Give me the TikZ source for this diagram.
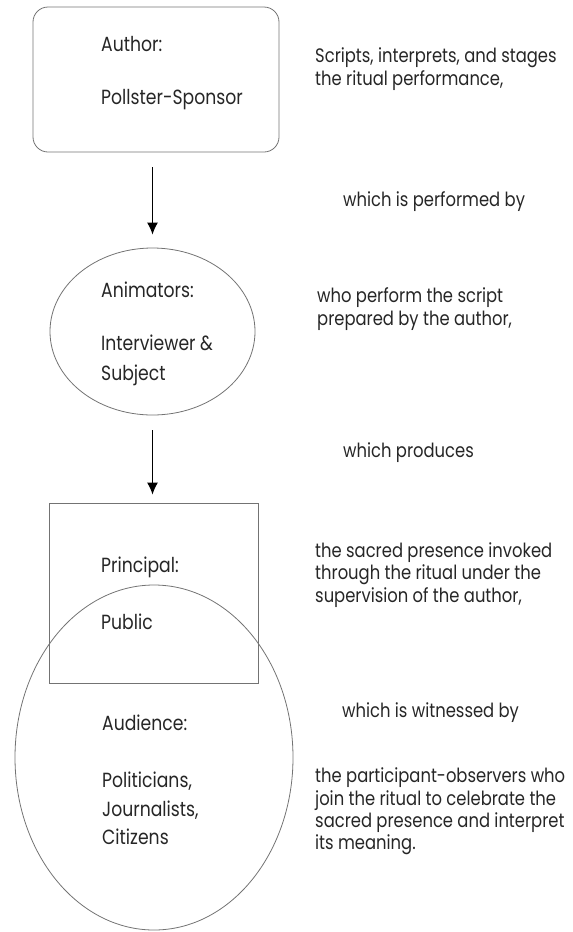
\documentclass[tikz,border=0pt]{standalone}
\usepackage{fontspec}
\setmainfont{Poppins}[FakeStretch=0.84]
\usetikzlibrary{shapes.geometric,arrows.meta}
\tikzset{
    box/.style={draw=black!55, line width=.8pt, inner sep=0pt},
    txt/.style={anchor=west, inner sep=0pt, align=left, text=black!85, font=\fontsize{20.5}{28.5}\selectfont},
    note/.style={anchor=west, inner sep=0pt, align=left, text=black!85, font=\fontsize{19.5}{22.3}\selectfont},
}
\begin{document}
\begin{tikzpicture}[>={Latex[length=12pt,width=11pt]}, x=1pt, y=-1pt]
        \useasboundingbox (0,0) rectangle (573,932);
        % shapes on the left
        \node[box, rounded corners=15pt, minimum width=246pt, minimum height=145pt] (author) at (156,79.5) {};
        \node[box, ellipse, minimum width=205pt, minimum height=167pt] (animators) at (152.5,331.5) {};
        \node[box, minimum width=209pt, minimum height=180pt] (principal) at (153.5,593) {};
        \node[box, ellipse, minimum width=278pt, minimum height=345pt] (audience) at (154,757.5) {};
        % texts in the shapes
        \node[txt] (authortxt) at (101,73.5) {Author:\\[24.5pt]Pollster-Sponsor};
        \node[txt] (animatorstxt) at (101,333.5) {Animators:\\[24.5pt]Interviewer \&\\[1.5pt]Subject};
        \node[txt] (principaltxt) at (101,593.5) {Principal:\\[28.5pt]Public};
        \node[txt] (audiencetxt) at (102,780) {Audience:\\[28.5pt]Politicians,\\Journalists,\\Citizens};
        % notes on the right
        \node[note] (scripts) at (315,69) {Scripts, interprets, and stages\\the ritual performance,};
        \node[note] (performedby) at (343,202) {which is performed by};
        \node[note] (perform) at (317,309) {who perform the script\\prepared by the author,};
        \node[note] (produces) at (343,453) {which produces};
        \node[note] (sacred) at (315,575) {the sacred presence invoked\\through the ritual under the\\supervision of the author,};
        \node[note] (witnessed) at (342,713) {which is witnessed by};
        \node[note] (observers) at (315,811.5) {the participant-observers who\\join the ritual to celebrate the\\sacred presence and interpret\\its meaning.};
        % arrows
        \draw[->, line width=1.3pt, shorten <=15pt, shorten >=13pt] (author.south -| animators.north) -- (animators.north);
        \draw[->, line width=1.3pt, shorten <=15pt, shorten >=8pt] (animators.south) -- (principal.north -| animators.south);
    \end{tikzpicture}
\end{document}
